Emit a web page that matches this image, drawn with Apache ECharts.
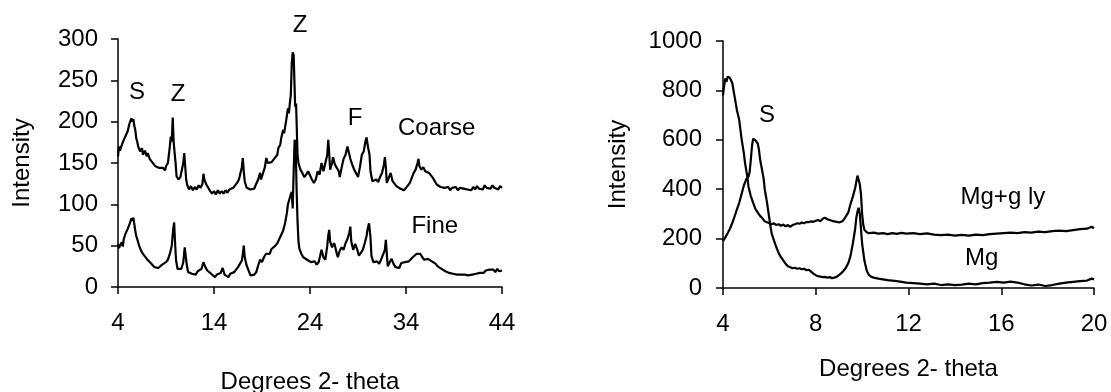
<!DOCTYPE html>
<html><head><meta charset="utf-8">
<script src="https://cdn.jsdelivr.net/npm/echarts@6/dist/echarts.min.js"></script>
<style>html,body{margin:0;padding:0;background:#fff}#c{width:1111px;height:392px}</style>
</head><body><div id="c"></div>
<script>
// ---- Left panel: XRD patterns, Coarse and Fine fractions ----
const leftXTicks = [4, 14, 24, 34, 44];
const coarse = [
[4.0,158],[4.1,170],[4.2,165],[4.4,172],[4.6,178],[4.8,183],[5.0,188],[5.2,198],[5.4,204],[5.5,200],[5.6,203],[5.7,195],[5.8,190],[5.9,180],[6.0,176],[6.1,170],[6.3,164],[6.5,168],[6.6,160],[6.8,165],[7.0,158],[7.1,162],[7.3,155],[7.5,152],[7.7,150],[7.9,146],[8.1,147],[8.3,144],[8.5,142],[8.7,144],[8.9,141],[9.0,146],[9.2,150],[9.4,170],[9.5,182],[9.6,176],[9.7,205],[9.75,204],[9.8,175],[9.9,162],[10.0,150],[10.1,134],[10.3,130],[10.5,133],[10.7,134],[10.8,150],[10.9,162],[11.0,160],[11.1,130],[11.2,124],[11.4,118],[11.6,122],[11.8,117],[12.0,121],[12.2,118],[12.4,123],[12.6,120],[12.8,125],[12.9,137],[13.0,130],[13.2,124],[13.4,120],[13.6,116],[13.8,113],[14.0,116],[14.2,112],[14.4,117],[14.6,113],[14.8,116],[15.0,113],[15.2,117],[15.4,114],[15.6,118],[15.8,116],[16.0,120],[16.2,122],[16.4,126],[16.6,130],[16.8,132],[16.9,145],[17.0,156],[17.1,140],[17.2,128],[17.4,120],[17.6,122],[17.8,118],[18.0,120],[18.2,119],[18.4,125],[18.6,130],[18.8,138],[18.9,130],[19.1,128],[19.3,145],[19.45,156],[19.6,150],[19.8,148],[20.0,151],[20.2,154],[20.4,156],[20.6,160],[20.7,168],[20.9,172],[21.0,180],[21.2,190],[21.3,186],[21.5,200],[21.7,216],[21.8,210],[21.9,222],[22.0,232],[22.1,270],[22.2,284],[22.3,280],[22.4,240],[22.45,218],[22.55,222],[22.7,160],[22.8,150],[23.0,142],[23.2,138],[23.4,133],[23.6,136],[23.8,140],[24.0,141],[24.2,130],[24.4,126],[24.6,130],[24.8,140],[25.0,136],[25.2,150],[25.4,140],[25.6,138],[25.8,160],[25.9,178],[26.0,162],[26.1,142],[26.3,150],[26.4,157],[26.6,148],[26.8,150],[27.0,140],[27.1,133],[27.3,145],[27.5,155],[27.7,160],[27.9,170],[28.0,165],[28.2,155],[28.4,148],[28.6,142],[28.8,140],[29.0,133],[29.2,145],[29.4,160],[29.6,164],[29.8,178],[29.9,181],[30.0,172],[30.2,160],[30.3,140],[30.5,128],[30.7,126],[30.9,130],[31.1,127],[31.3,133],[31.5,138],[31.7,148],[31.8,157],[31.9,145],[32.0,126],[32.2,132],[32.4,138],[32.6,128],[32.8,126],[33.0,122],[33.2,124],[33.4,119],[33.6,121],[33.8,117],[34.0,120],[34.2,123],[34.4,126],[34.6,132],[34.8,138],[35.0,142],[35.2,150],[35.3,155],[35.4,146],[35.6,142],[35.8,145],[36.0,140],[36.2,142],[36.4,138],[36.6,140],[36.8,132],[37.0,128],[37.2,124],[37.4,125],[37.6,121],[37.8,123],[38.0,120],[38.2,118],[38.4,121],[38.6,117],[38.8,120],[39.0,118],[39.2,121],[39.4,117],[39.6,120],[39.8,118],[40.0,119],[40.2,121],[40.4,118],[40.6,120],[40.8,117],[41.0,121],[41.2,118],[41.4,122],[41.6,119],[41.8,121],[42.0,118],[42.2,123],[42.4,120],[42.6,122],[42.8,119],[43.0,123],[43.2,120],[43.4,121],[43.6,118],[43.8,122],[44.0,120]
];
const fine = [
[4.0,52],[4.1,47],[4.2,50],[4.4,54],[4.5,49],[4.6,58],[4.8,65],[5.0,70],[5.2,76],[5.4,83],[5.5,80],[5.6,84],[5.7,76],[5.8,68],[5.9,62],[6.0,58],[6.2,50],[6.4,44],[6.6,40],[6.8,37],[7.0,34],[7.2,32],[7.4,29],[7.6,27],[7.8,24],[8.0,26],[8.2,23],[8.4,25],[8.6,27],[8.8,25],[9.0,30],[9.2,33],[9.4,40],[9.6,50],[9.75,70],[9.85,78],[9.95,52],[10.05,32],[10.2,22],[10.4,20],[10.6,22],[10.8,30],[10.95,48],[11.05,50],[11.15,28],[11.3,18],[11.5,20],[11.7,16],[11.9,18],[12.1,15],[12.3,19],[12.5,17],[12.7,22],[12.9,30],[13.1,24],[13.3,20],[13.5,18],[13.7,16],[13.9,14],[14.1,12],[14.3,15],[14.5,13],[14.7,17],[14.9,23],[15.1,15],[15.3,13],[15.5,12],[15.7,16],[15.9,14],[16.1,18],[16.3,20],[16.5,24],[16.7,28],[16.9,32],[17.0,40],[17.1,50],[17.2,36],[17.4,26],[17.6,20],[17.8,14],[18.0,12],[18.2,15],[18.4,18],[18.6,26],[18.8,33],[19.0,30],[19.2,36],[19.4,40],[19.6,42],[19.8,40],[20.0,46],[20.2,44],[20.4,50],[20.6,53],[20.8,58],[21.0,60],[21.2,68],[21.4,77],[21.6,90],[21.7,100],[21.8,98],[22.0,112],[22.1,115],[22.2,95],[22.3,140],[22.4,178],[22.5,175],[22.6,120],[22.7,80],[22.8,55],[22.9,46],[23.1,40],[23.3,36],[23.5,38],[23.7,33],[23.9,35],[24.1,30],[24.3,29],[24.5,31],[24.7,27],[24.9,30],[25.1,40],[25.2,45],[25.4,36],[25.6,33],[25.8,50],[25.9,62],[26.0,69],[26.1,55],[26.3,48],[26.5,53],[26.6,50],[26.8,40],[26.9,36],[27.1,44],[27.3,48],[27.5,45],[27.7,53],[27.9,58],[28.1,66],[28.2,73],[28.3,55],[28.5,45],[28.7,52],[28.9,46],[29.1,38],[29.3,36],[29.5,45],[29.7,53],[29.9,62],[30.0,70],[30.15,77],[30.3,60],[30.4,38],[30.6,30],[30.8,29],[31.0,31],[31.2,28],[31.4,33],[31.6,34],[31.8,45],[31.9,57],[32.0,40],[32.1,25],[32.3,30],[32.5,34],[32.7,28],[32.9,24],[33.1,26],[33.3,23],[33.5,29],[33.7,27],[33.9,30],[34.1,28],[34.3,31],[34.5,33],[34.7,36],[34.9,38],[35.1,40],[35.3,42],[35.5,40],[35.7,36],[35.9,33],[36.1,35],[36.3,34],[36.5,35],[36.7,31],[36.9,29],[37.1,28],[37.3,25],[37.5,24],[37.7,22],[37.9,20],[38.1,19],[38.3,20],[38.5,17],[38.7,18],[38.9,16],[39.1,17],[39.3,15],[39.5,16],[39.7,15],[39.9,17],[40.1,15],[40.3,16],[40.5,14],[40.7,16],[40.9,15],[41.1,17],[41.3,16],[41.5,18],[41.7,17],[41.9,19],[42.1,17],[42.3,20],[42.5,18],[42.7,21],[42.9,19],[43.1,21],[43.3,18],[43.5,22],[43.7,19],[43.9,21],[44.0,20]
];
// ---- Right panel: Mg and Mg+glycol ----
const rightYLabels = ['0','200','400','600','800','1000'];
const mgGly = [
[4.0,780],[4.05,820],[4.1,848],[4.15,835],[4.2,856],[4.25,862],[4.3,850],[4.35,858],[4.4,830],[4.5,775],[4.6,720],[4.7,680],[4.8,605],[4.9,545],[4.95,506],[5.05,450],[5.1,410],[5.2,372],[5.3,345],[5.4,320],[5.5,305],[5.6,292],[5.7,282],[5.8,270],[5.9,266],[6.0,262],[6.1,258],[6.2,262],[6.3,255],[6.4,258],[6.5,252],[6.6,257],[6.7,250],[6.8,255],[6.9,248],[7.0,255],[7.1,258],[7.2,262],[7.3,260],[7.4,265],[7.5,262],[7.6,268],[7.7,266],[7.8,270],[7.9,268],[8.0,272],[8.1,275],[8.2,270],[8.3,280],[8.4,285],[8.5,278],[8.6,275],[8.7,272],[8.8,270],[8.9,268],[9.0,265],[9.1,268],[9.2,275],[9.3,290],[9.4,305],[9.5,340],[9.6,370],[9.7,405],[9.75,430],[9.8,455],[9.85,448],[9.9,420],[9.95,380],[10.0,300],[10.05,255],[10.1,235],[10.2,226],[10.3,222],[10.5,224],[10.7,220],[10.9,222],[11.1,218],[11.3,222],[11.5,219],[11.7,223],[11.9,220],[12.2,222],[12.5,218],[12.8,221],[13.1,216],[13.4,214],[13.7,216],[14.0,212],[14.3,215],[14.6,212],[14.9,216],[15.2,214],[15.5,218],[15.8,220],[16.1,222],[16.4,224],[16.7,222],[17.0,226],[17.3,224],[17.6,228],[17.9,226],[18.2,230],[18.5,232],[18.8,230],[19.1,234],[19.4,238],[19.7,240],[19.9,248],[20.0,242]
];
const mg = [
[4.0,190],[4.05,196],[4.1,205],[4.2,222],[4.3,240],[4.4,263],[4.5,290],[4.6,318],[4.7,345],[4.8,380],[4.9,415],[5.0,440],[5.05,445],[5.1,450],[5.15,470],[5.2,520],[5.25,575],[5.3,605],[5.35,612],[5.4,598],[5.45,590],[5.5,585],[5.55,560],[5.6,520],[5.7,470],[5.75,445],[5.8,400],[5.9,345],[6.0,280],[6.05,248],[6.1,220],[6.2,192],[6.3,165],[6.4,142],[6.5,125],[6.6,112],[6.7,98],[6.8,88],[6.9,84],[7.0,80],[7.1,82],[7.2,78],[7.3,80],[7.4,76],[7.5,78],[7.6,72],[7.7,74],[7.8,66],[7.9,58],[8.0,52],[8.1,48],[8.2,46],[8.3,44],[8.4,45],[8.5,42],[8.6,44],[8.7,40],[8.8,42],[8.9,45],[9.0,52],[9.1,60],[9.2,70],[9.3,82],[9.4,100],[9.5,130],[9.6,180],[9.7,240],[9.75,285],[9.8,310],[9.85,325],[9.9,300],[9.95,240],[10.0,180],[10.1,110],[10.2,70],[10.3,52],[10.4,45],[10.5,42],[10.7,38],[10.9,35],[11.1,32],[11.3,30],[11.5,28],[11.7,25],[11.9,22],[12.2,20],[12.5,18],[12.8,15],[13.1,18],[13.4,12],[13.7,15],[14.0,12],[14.3,14],[14.6,18],[14.9,15],[15.2,20],[15.5,22],[15.8,25],[16.1,22],[16.4,26],[16.7,22],[17.0,15],[17.3,10],[17.6,14],[17.9,8],[18.2,12],[18.5,18],[18.8,22],[19.1,25],[19.4,28],[19.7,30],[19.9,38],[20.0,35]
];
// annotations (data coordinates)
const leftNotes = [['S',5.98,235],['Z',10.25,233],['Z',22.96,317],['F',28.7,204],['Coarse',37.2,192],['Fine',37.0,73]];
const rightNotes = [['S',5.9,700],['Mg+g ly',16.07,368],['Mg',15.16,121]];

const FONT = "'Liberation Sans', Arial, sans-serif";
const FS = 24;
const chart = echarts.init(document.getElementById('c'), null, {renderer:'canvas'});
const axisLine = {lineStyle:{color:'#000', width:1.5}};
const axisTick = {show:true, inside:false, length:7, lineStyle:{color:'#000', width:1.5}};
const lbl = {color:'#000', fontFamily:FONT, fontSize:FS};
const nameStyle = {color:'#000', fontFamily:FONT, fontSize:FS};
const lineSeries = (data, xi) => ({type:'line', xAxisIndex:xi, yAxisIndex:xi, data, showSymbol:false, symbol:'none',
  lineStyle:{color:'#000', width:2.2}, animation:false, silent:true});

chart.setOption({
  animation:false,
  backgroundColor:'#fff',
  grid:[
    {left:118, top:39, width:384, height:248, containLabel:false, outerBoundsMode:'none'},
    {left:723, top:41, width:371, height:247, containLabel:false, outerBoundsMode:'none'}
  ],
  xAxis:[
    {gridIndex:0, type:'value', min:4, max:44, splitLine:{show:false}, axisLine,
     axisTick:Object.assign({customValues:leftXTicks}, axisTick),
     axisLabel:Object.assign({customValues:leftXTicks, margin:24}, lbl),
     name:'Degrees 2- theta', nameLocation:'middle', nameGap:83, nameTextStyle:nameStyle},
    {gridIndex:1, type:'value', min:4, max:20, interval:4, splitLine:{show:false}, axisLine, axisTick,
     axisLabel:Object.assign({margin:24}, lbl),
     name:'Degrees 2- theta', nameLocation:'middle', nameGap:69, nameTextStyle:nameStyle}
  ],
  yAxis:[
    {gridIndex:0, type:'value', min:0, max:300, interval:50, splitLine:{show:false}, axisLine:Object.assign({show:true},axisLine), axisTick,
     axisLabel:Object.assign({margin:20}, lbl),
     name:'Intensity', nameLocation:'middle', nameRotate:90, nameGap:84, nameTextStyle:nameStyle},
    {gridIndex:1, type:'value', min:0, max:1000, interval:200, splitLine:{show:false}, axisLine:Object.assign({show:true},axisLine), axisTick,
     axisLabel:Object.assign({margin:21, formatter:(v)=>rightYLabels[Math.round(v/200)]}, lbl),
     name:'Intensity', nameLocation:'middle', nameRotate:90, nameGap:93, nameTextStyle:nameStyle}
  ],
  series:[lineSeries(coarse,0), lineSeries(fine,0), lineSeries(mgGly,1), lineSeries(mg,1)]
});

const gfx = [];
leftNotes.forEach(n => {
  const p = chart.convertToPixel({gridIndex:0}, [n[1], n[2]]);
  gfx.push({type:'text', x:p[0], y:p[1], style:{text:n[0], fill:'#000', font:FS+'px '+FONT, align:'center', verticalAlign:'middle'}});
});
rightNotes.forEach(n => {
  const p = chart.convertToPixel({gridIndex:1}, [n[1], n[2]]);
  gfx.push({type:'text', x:p[0], y:p[1], style:{text:n[0], fill:'#000', font:FS+'px '+FONT, align:'center', verticalAlign:'middle'}});
});
chart.setOption({graphic:gfx});
</script>
</body></html>
